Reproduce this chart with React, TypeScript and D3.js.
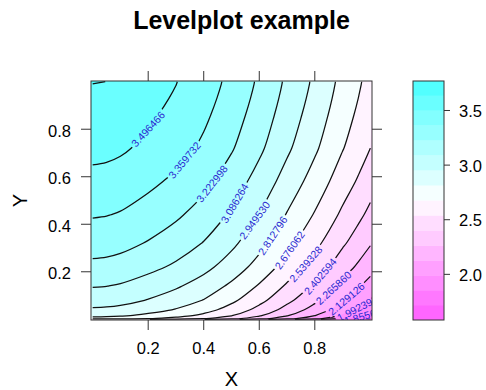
import React from "react";
import * as d3 from "d3";

// ---- data (grid nodes, bottom row first) ----
const xGrid = [0, 0.05, 0.1, 0.2, 0.3, 0.4, 0.5, 0.6, 0.7, 0.8, 0.9, 0.96, 1];
const yGrid = [0, 0.003, 0.015, 0.04, 0.08, 0.14, 0.22, 0.32, 0.44, 0.58, 0.72, 0.86, 0.93, 0.99, 1];
const zRows = [
  [2.612, 2.606, 2.592, 2.543, 2.484, 2.406, 2.303, 2.176, 2.033, 1.890, 1.733, 1.644, 1.58219],
  [2.755, 2.749, 2.735, 2.686, 2.627, 2.549, 2.446, 2.320, 2.176, 2.033, 1.876, 1.787, 1.725],
  [2.850, 2.844, 2.830, 2.781, 2.722, 2.645, 2.542, 2.415, 2.272, 2.129, 1.972, 1.883, 1.822],
  [2.932, 2.926, 2.912, 2.863, 2.804, 2.727, 2.624, 2.498, 2.355, 2.212, 2.056, 1.967, 1.906],
  [3.012, 3.006, 2.992, 2.943, 2.884, 2.808, 2.705, 2.579, 2.437, 2.295, 2.139, 2.051, 1.990],
  [3.094, 3.088, 3.074, 3.025, 2.967, 2.890, 2.788, 2.663, 2.521, 2.380, 2.225, 2.137, 2.077],
  [3.191, 3.185, 3.171, 3.122, 3.064, 2.988, 2.887, 2.762, 2.621, 2.480, 2.326, 2.240, 2.179],
  [3.282, 3.276, 3.262, 3.214, 3.156, 3.080, 2.979, 2.855, 2.715, 2.575, 2.422, 2.336, 2.276],
  [3.370, 3.364, 3.350, 3.302, 3.244, 3.169, 3.068, 2.945, 2.805, 2.666, 2.514, 2.428, 2.369],
  [3.458, 3.452, 3.438, 3.390, 3.333, 3.258, 3.157, 3.034, 2.895, 2.756, 2.605, 2.520, 2.460],
  [3.535, 3.529, 3.515, 3.467, 3.410, 3.335, 3.235, 3.112, 2.973, 2.834, 2.683, 2.598, 2.539],
  [3.585, 3.579, 3.565, 3.517, 3.460, 3.385, 3.285, 3.162, 3.023, 2.885, 2.734, 2.649, 2.590],
  [3.607, 3.601, 3.587, 3.539, 3.482, 3.407, 3.307, 3.184, 3.045, 2.907, 2.756, 2.671, 2.612],
  [3.623, 3.617, 3.603, 3.555, 3.498, 3.423, 3.323, 3.200, 3.061, 2.923, 2.772, 2.687, 2.628],
  [3.769934, 3.619, 3.605, 3.557, 3.500, 3.425, 3.325, 3.202, 3.063, 2.925, 2.774, 2.689, 2.630],
];
const cuts = 15;
const xTicks = [0.2, 0.4, 0.6, 0.8];
const yTicks = [0.2, 0.4, 0.6, 0.8];
const keyTicks = [2.0, 2.5, 3.0, 3.5];
const xLimits = [-0.006, 1.006];
const yLimits = [-0.003, 1.003];
const title = "Levelplot example";
const xLabel = "X";
const yLabel = "Y";

// ---- styles ----
const FONT = "'Liberation Sans', Arial, Helvetica, sans-serif";
const S_MAGENTA = 0.6;
const S_CYAN = 0.68;
const plot = { left: 91, right: 372, top: 81, bottom: 320 };
const key = { left: 413, right: 444 };

function paletteColor(idx: number): string {
  if (idx < 50) {
    const s = (S_MAGENTA * (50 - idx)) / 50;
    return d3.rgb(255, 255 * (1 - s), 255).formatHex();
  }
  const s = (S_CYAN * (idx - 49)) / 50;
  return d3.rgb(255 * (1 - s), 255, 255).formatHex();
}

type Pt = [number, number];

export default function App() {
  const W = 486;
  const H = 390;
  const nx = xGrid.length;
  const ny = yGrid.length;
  const values = zRows.flat();
  const [zMin, zMax] = d3.extent(values) as [number, number];
  const levels = d3.range(cuts + 2).map((i) => zMin + (i * (zMax - zMin)) / (cuts + 1));
  const bandColors = d3.range(cuts + 1).map((k) => paletteColor(Math.floor((k * 99) / cuts)));

  const xScale = d3.scaleLinear().domain(xLimits).range([plot.left, plot.right]);
  const yScale = d3.scaleLinear().domain(yLimits).range([plot.bottom, plot.top]);
  const gx = d3
    .scaleLinear()
    .domain([0, ...xGrid.map((_, i) => i + 0.5), nx])
    .range([xLimits[0], ...xGrid, xLimits[1]]);
  const gy = d3
    .scaleLinear()
    .domain([0, ...yGrid.map((_, i) => i + 0.5), ny])
    .range([yLimits[0], ...yGrid, yLimits[1]]);
  const proj = (p: number[]): Pt => [xScale(gx(p[0])), yScale(gy(p[1]))];

  const inner = levels.slice(1, cuts + 1);
  const contours = d3.contours().size([nx, ny]).thresholds(inner)(values);

  const ringPath = (ring: number[][]) =>
    "M" + ring.map((p) => proj(p).map((v) => v.toFixed(2)).join(",")).join("L") + "Z";
  const mpPath = (mp: any) =>
    mp.coordinates.map((poly: number[][][]) => poly.map(ringPath).join("")).join("");

  const inside = (p: number[]) => p[0] > 0 && p[0] < nx && p[1] > 0 && p[1] < ny;

  const lineOpen = d3.line<Pt>().curve(d3.curveCatmullRom.alpha(0.5));
  const lineClosed = d3.line<Pt>().curve(d3.curveCatmullRomClosed.alpha(0.5));

  const linePaths: string[] = [];
  const labels: { x: number; y: number; angle: number; text: string }[] = [];
  const fmt = d3.format(".6f");

  contours.forEach((c: any) => {
    const polylines: { pts: number[][]; closed: boolean }[] = [];
    c.coordinates.forEach((poly: number[][][]) => {
      poly.forEach((ring) => {
        let pts = ring.slice();
        const f = pts[0];
        const l = pts[pts.length - 1];
        if (pts.length > 1 && f[0] === l[0] && f[1] === l[1]) pts = pts.slice(0, -1);
        const bIdx = pts.findIndex((p) => !inside(p));
        if (bIdx < 0) {
          polylines.push({ pts, closed: true });
          return;
        }
        const rot = [...pts.slice(bIdx), ...pts.slice(0, bIdx)];
        let cur: number[][] = [];
        rot.forEach((p) => {
          if (inside(p)) cur.push(p);
          else {
            if (cur.length >= 2) polylines.push({ pts: cur, closed: false });
            cur = [];
          }
        });
        if (cur.length >= 2) polylines.push({ pts: cur, closed: false });
      });
    });

    let best: { px: Pt[]; d: Pt[]; len: number } | null = null;
    polylines.forEach((pl) => {
      const px = pl.pts.map(proj);
      const d = pl.pts.map((p) => [gx(p[0]), gy(p[1])] as Pt);
      linePaths.push((pl.closed ? lineClosed(px) : lineOpen(px)) || "");
      let len = 0;
      for (let i = 1; i < px.length; i++) len += Math.hypot(px[i][0] - px[i - 1][0], px[i][1] - px[i - 1][1]);
      if (!best || len > best.len) best = { px, d, len };
    });

    if (best && (best as any).len > 40) {
      const { px, d } = best as { px: Pt[]; d: Pt[]; len: number };
      const fv = d.map((p) => p[0] + p[1] - 1);
      let idx = -1;
      let t = 0;
      for (let i = 0; i < fv.length - 1; i++) {
        if ((fv[i] <= 0 && fv[i + 1] >= 0) || (fv[i] >= 0 && fv[i + 1] <= 0)) {
          idx = i;
          t = fv[i] === fv[i + 1] ? 0.5 : fv[i] / (fv[i] - fv[i + 1]);
          break;
        }
      }
      if (idx < 0) {
        idx = d3.minIndex(fv, (v) => Math.abs(v));
        if (idx >= px.length - 1) idx = px.length - 2;
        t = 0;
      }
      const x = px[idx][0] + t * (px[idx + 1][0] - px[idx][0]);
      const y = px[idx][1] + t * (px[idx + 1][1] - px[idx][1]);
      const a = px[Math.max(idx - 1, 0)];
      const b = px[Math.min(idx + 2, px.length - 1)];
      let angle = (Math.atan2(b[1] - a[1], b[0] - a[0]) * 180) / Math.PI;
      if (angle > 90) angle -= 180;
      if (angle < -90) angle += 180;
      labels.push({ x, y, angle, text: fmt(c.value) });
    }
  });

  const keyScale = d3.scaleLinear().domain([zMin, zMax]).range([plot.bottom, plot.top]);
  const labelW = 48;

  return (
    <svg
      width={W}
      height={H}
      viewBox={`0 0 ${W} ${H}`}
      style={{ position: "absolute", left: 0, top: 0, background: "#ffffff" }}
      fontFamily={FONT}
    >
      <defs>
        <clipPath id="plotClip">
          <rect x={plot.left} y={plot.top} width={plot.right - plot.left} height={plot.bottom - plot.top} />
        </clipPath>
        <mask id="labelMask" maskUnits="userSpaceOnUse" x={0} y={0} width={W} height={H}>
          <rect x={0} y={0} width={W} height={H} fill="white" />
          {labels.map((lb, i) => (
            <rect
              key={i}
              x={-labelW / 2}
              y={-4.5}
              width={labelW}
              height={9}
              fill="black"
              transform={`translate(${lb.x},${lb.y}) rotate(${lb.angle})`}
            />
          ))}
        </mask>
      </defs>

      <text x={241.5} y={29} textAnchor="middle" fontSize={25} fontWeight="bold" fill="#000">
        {title}
      </text>

      <g clipPath="url(#plotClip)">
        <rect
          x={plot.left}
          y={plot.top}
          width={plot.right - plot.left}
          height={plot.bottom - plot.top}
          fill={bandColors[0]}
        />
        {contours.map((c: any, i: number) => (
          <path key={i} d={mpPath(c)} fill={bandColors[i + 1]} fillRule="evenodd" stroke="none" />
        ))}
        <g mask="url(#labelMask)">
          {linePaths.map((d, i) => (
            <path key={i} d={d} fill="none" stroke="#111" strokeWidth={1.25} />
          ))}
        </g>
        {labels.map((lb, i) => (
          <text
            key={i}
            transform={`translate(${lb.x},${lb.y}) rotate(${lb.angle})`}
            textAnchor="middle"
            dominantBaseline="central"
            fontSize={10.5}
            fill="#2a2ad0"
          >
            {lb.text}
          </text>
        ))}
      </g>

      <rect
        x={plot.left}
        y={plot.top}
        width={plot.right - plot.left}
        height={plot.bottom - plot.top}
        fill="none"
        stroke="#333"
        strokeWidth={1}
      />

      {xTicks.map((v) => (
        <g key={`xt${v}`}>
          <line x1={xScale(v)} x2={xScale(v)} y1={plot.bottom} y2={plot.bottom + 10} stroke="#333" />
          <line x1={xScale(v)} x2={xScale(v)} y1={plot.top} y2={plot.top - 10} stroke="#333" />
          <text x={xScale(v)} y={354} textAnchor="middle" fontSize={16.5} fill="#000">
            {v.toFixed(1)}
          </text>
        </g>
      ))}
      {yTicks.map((v) => (
        <g key={`yt${v}`}>
          <line x1={plot.left} x2={plot.left - 10} y1={yScale(v)} y2={yScale(v)} stroke="#333" />
          <line x1={plot.right} x2={plot.right + 10} y1={yScale(v)} y2={yScale(v)} stroke="#333" />
          <text x={71} y={yScale(v) + 7.5} textAnchor="end" fontSize={16.5} fill="#000">
            {v.toFixed(1)}
          </text>
        </g>
      ))}

      <text x={(plot.left + plot.right) / 2} y={386} textAnchor="middle" fontSize={20} fill="#000">
        {xLabel}
      </text>
      <text
        transform={`translate(26.5,${(plot.top + plot.bottom) / 2}) rotate(-90)`}
        textAnchor="middle"
        fontSize={20}
        fill="#000"
      >
        {yLabel}
      </text>

      {bandColors.map((col, k) => (
        <rect
          key={`kb${k}`}
          x={key.left}
          y={keyScale(levels[k + 1])}
          width={key.right - key.left}
          height={keyScale(levels[k]) - keyScale(levels[k + 1])}
          fill={col}
          stroke="none"
        />
      ))}
      <rect
        x={key.left}
        y={plot.top}
        width={key.right - key.left}
        height={plot.bottom - plot.top}
        fill="none"
        stroke="#333"
      />
      {keyTicks.map((v) => (
        <g key={`kt${v}`}>
          <line x1={key.right} x2={key.right + 6} y1={keyScale(v)} y2={keyScale(v)} stroke="#333" />
          <text x={459} y={keyScale(v) + 6.5} textAnchor="start" fontSize={16.5} fill="#000">
            {v.toFixed(1)}
          </text>
        </g>
      ))}
    </svg>
  );
}
